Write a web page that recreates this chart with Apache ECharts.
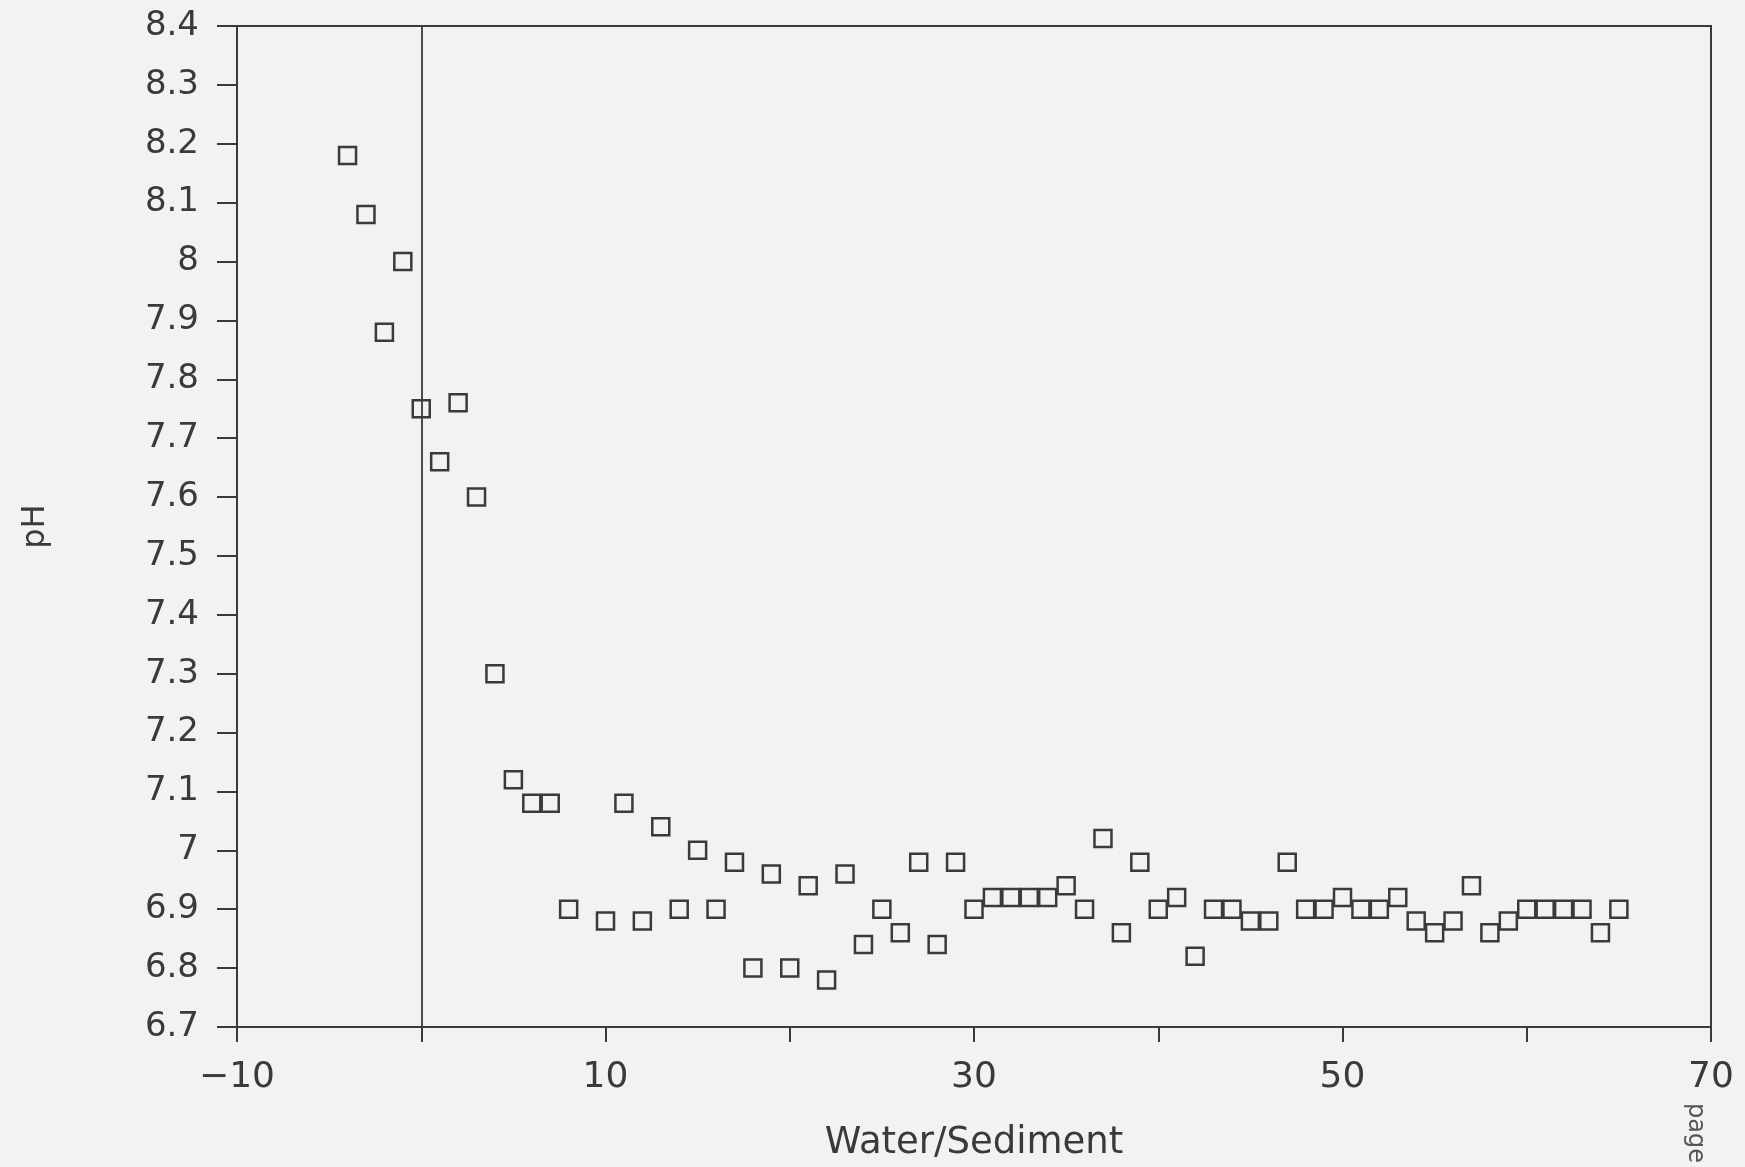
<!DOCTYPE html>
<html>
<head>
<meta charset="utf-8">
<script src="https://cdn.jsdelivr.net/npm/echarts@6/dist/echarts.min.js"></script>
<style>
html,body{margin:0;padding:0;background:#f2f2f0;}
#chart{width:1745px;height:1167px;}
</style>
</head>
<body>
<div id="chart"></div>
<script>
// Data
const waterSediment = [-4,-3,-2,-1,0,1,2,3,4,5,6,7,8,10,11,12,13,14,15,16,17,18,19,20,21,22,23,24,25,26,27,28,29,30,31,32,33,34,35,36,37,38,39,40,41,42,43,44,45,46,47,48,49,50,51,52,53,54,55,56,57,58,59,60,61,62,63,64,65];
const pH = [8.18,8.08,7.88,8.00,7.75,7.66,7.76,7.60,7.30,7.12,7.08,7.08,6.90,6.88,7.08,6.88,7.04,6.90,7.00,6.90,6.98,6.80,6.96,6.80,6.94,6.78,6.96,6.84,6.90,6.86,6.98,6.84,6.98,6.90,6.92,6.92,6.92,6.92,6.94,6.90,7.02,6.86,6.98,6.90,6.92,6.82,6.90,6.90,6.88,6.88,6.98,6.90,6.90,6.92,6.90,6.90,6.92,6.88,6.86,6.88,6.94,6.86,6.88,6.90,6.90,6.90,6.90,6.86,6.90];
const xLabelValues = [-10, 10, 30, 50, 70];
const referenceLineX = 0;
const xTitle = 'Water/Sediment';
const yTitle = 'pH';
const cornerNote = 'page';

const points = waterSediment.map((x, i) => [x, pH[i]]);
const ink = '#3a3a3a';
const font = 'DejaVu Sans';

const chart = echarts.init(document.getElementById('chart'), null, {renderer: 'canvas'});
chart.setOption({
  backgroundColor: '#f2f2f0',
  animation: false,
  grid: {left: 237, top: 26, width: 1474, height: 1002, show: true, borderColor: ink, borderWidth: 2, backgroundColor: 'transparent'},
  xAxis: {
    type: 'value', min: -10, max: 70, interval: 10,
    name: xTitle, nameLocation: 'middle', nameGap: 98,
    nameTextStyle: {fontFamily: font, fontSize: 37, color: ink},
    axisLine: {show: true, onZero: false, lineStyle: {color: ink, width: 2}},
    axisTick: {show: true, inside: false, length: 15, lineStyle: {color: ink, width: 2}},
    axisLabel: {
      margin: 33, fontFamily: font, fontSize: 36, color: ink,
      formatter: v => xLabelValues.indexOf(v) >= 0 ? (v < 0 ? '\u2212' + Math.abs(v) : String(v)) : ''
    },
    splitLine: {show: false}
  },
  yAxis: {
    type: 'value', min: 6.7, max: 8.4, interval: 0.1,
    name: yTitle, nameLocation: 'middle', nameGap: 185, nameRotate: 90,
    nameTextStyle: {fontFamily: font, fontSize: 32, color: ink},
    axisLine: {show: true, onZero: false, lineStyle: {color: ink, width: 2}},
    axisTick: {show: true, inside: false, length: 20, lineStyle: {color: ink, width: 2}},
    axisLabel: {
      margin: 38, fontFamily: font, fontSize: 34, color: ink,
      formatter: v => String(Math.round(v * 10) / 10)
    },
    splitLine: {show: false}
  },
  graphic: [{
    type: 'text', left: 1683, top: 1103, rotation: -Math.PI / 2,
    style: {text: cornerNote, font: '24px "DejaVu Sans"', fill: '#555'}
  }],
  series: [{
    type: 'scatter',
    data: points,
    symbol: 'rect',
    symbolSize: 17,
    itemStyle: {color: 'rgba(0,0,0,0)', borderColor: ink, borderWidth: 2.5, opacity: 1},
    markLine: {
      silent: true, symbol: ['none', 'none'], label: {show: false},
      lineStyle: {color: ink, width: 1.8, type: 'solid'},
      data: [{xAxis: referenceLineX}]
    }
  }]
});
</script>
</body>
</html>
